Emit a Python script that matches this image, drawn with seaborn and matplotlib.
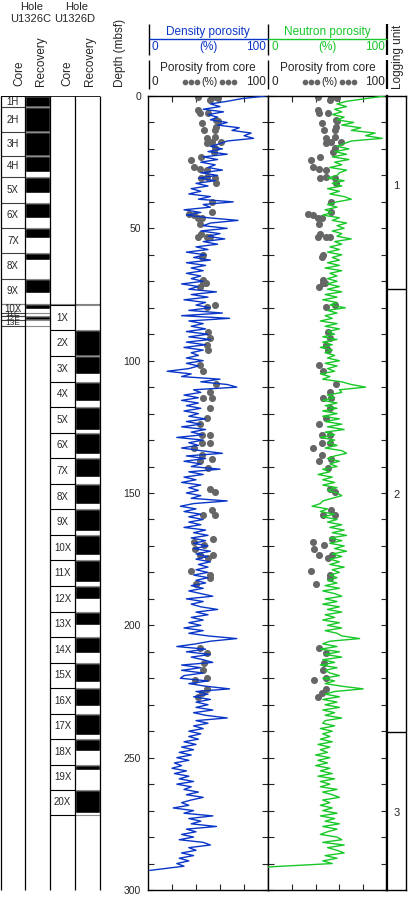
import numpy as np
import pandas as pd
import matplotlib
matplotlib.use("Agg")
import matplotlib.pyplot as plt
import seaborn as sns

sns.set_style("white")
plt.rcParams['font.family'] = ['Liberation Sans', 'DejaVu Sans']

BLUE = '#0a36c8'
GREEN = '#18c828'
GREY = '#666666'

# ---- hole U1326C cores (mbsf) ----
c_names = ['1H', '2H', '3H', '4H', '5X', '6X', '7X', '8X', '9X', '10X', '11E', '12E', '13E']
c_top = [0.0, 4.2, 13.6, 22.7, 30.5, 40.4, 49.9, 59.3, 69.1, 78.6, 82.0, 83.2, 84.6]
c_bot = [4.2, 13.6, 22.7, 30.5, 40.4, 49.9, 59.3, 69.1, 78.6, 82.0, 83.2, 84.6, 87.0]
c_rec = [4.2, 9.4, 9.1, 5.9, 6.0, 5.8, 3.9, 2.7, 5.4, 1.7, 0.5, 1.4, 0.3]

# ---- hole U1326D cores ----
d_names = ['1X', '2X', '3X', '4X', '5X', '6X', '7X', '8X', '9X', '10X',
           '11X', '12X', '13X', '14X', '15X', '16X', '17X', '18X', '19X', '20X']
d_top = [79.0, 88.4, 98.2, 107.9, 117.5, 127.2, 136.8, 146.5, 156.2, 165.8,
         175.5, 185.1, 194.8, 204.5, 214.1, 223.6, 233.4, 243.0, 252.7, 262.2]
d_bot = [88.4, 98.2, 107.9, 117.5, 127.2, 136.8, 146.5, 156.2, 165.8, 175.5,
         185.1, 194.8, 204.5, 214.1, 223.6, 233.4, 243.0, 252.7, 262.2, 271.6]
d_rec = [0.0, 9.8, 6.9, 7.5, 8.6, 8.0, 7.2, 7.5, 8.0, 7.5,
         8.3, 5.0, 5.0, 6.0, 7.2, 7.0, 7.9, 4.3, 2.1, 8.8]

# ---- logging units ----
unit_bounds = [72.9, 240.3]
unit_names = ['1', '2', '3']
unit_mid = [34.0, 150.7, 271.0]

# ---- log porosity (%), one reading per metre from 0 m ----
den_por = [98, 78, 66, 52, 60, 46, 63, 50, 58, 52,
           66, 58, 76, 70, 86, 80, 88, 66, 60, 52,
           62, 50, 66, 46, 58, 44, 56, 50, 62, 44,
           58, 42, 56, 40, 50, 36, 44, 34, 52, 42,
           71, 46, 52, 30, 44, 32, 50, 75, 52, 46,
           66, 44, 60, 50, 64, 46, 58, 40, 50, 32,
           48, 38, 52, 32, 48, 36, 46, 32, 44, 36,
           46, 28, 42, 34, 57, 36, 50, 30, 48, 40,
           52, 34, 62, 28, 68, 34, 46, 36, 48, 32,
           50, 34, 52, 32, 48, 30, 46, 36, 42, 32,
           46, 32, 42, 34, 16, 36, 28, 60, 44, 66,
           74, 38, 44, 30, 42, 28, 42, 32, 44, 30,
           42, 34, 48, 32, 44, 28, 48, 36, 46, 24,
           46, 34, 42, 28, 44, 62, 32, 48, 30, 44,
           36, 60, 34, 46, 30, 40, 28, 44, 34, 42,
           32, 44, 36, 66, 38, 27, 40, 30, 44, 34,
           46, 34, 44, 30, 48, 38, 50, 36, 48, 38,
           50, 38, 52, 40, 50, 40, 52, 42, 50, 40,
           50, 38, 50, 40, 48, 36, 46, 34, 44, 54,
           32, 46, 36, 44, 58, 40, 50, 36, 46, 34,
           44, 30, 46, 34, 50, 74, 52, 40, 24, 48,
           32, 52, 36, 46, 54, 28, 44, 28, 46, 30,
           27, 50, 34, 48, 68, 40, 50, 38, 52, 40,
           50, 40, 54, 38, 48, 66, 40, 50, 38, 46,
           34, 44, 34, 42, 30, 40, 28, 38, 26, 36,
           24, 34, 22, 28, 20, 32, 22, 34, 26, 38,
           24, 36, 30, 42, 32, 46, 36, 28, 34, 21,
           38, 30, 54, 34, 44, 36, 57, 32, 40, 28,
           38, 26, 46, 52, 34, 40, 28, 38, 26, 34,
           24, 30, 1.5]
neu_por = [98, 82, 66, 58, 66, 56, 62, 54, 64, 58,
           72, 62, 78, 70, 90, 82, 96, 70, 64, 58,
           68, 56, 66, 54, 68, 56, 62, 52, 66, 60,
           58, 50, 64, 54, 62, 50, 60, 52, 64, 70,
           58, 50, 58, 48, 54, 46, 60, 54, 66, 58,
           64, 54, 62, 58, 70, 56, 62, 52, 60, 50,
           62, 54, 60, 50, 60, 48, 62, 52, 58, 50,
           58, 50, 60, 50, 62, 48, 58, 46, 58, 52,
           65, 50, 58, 48, 54, 44, 58, 48, 60, 50,
           56, 46, 58, 46, 54, 44, 54, 48, 56, 50,
           60, 48, 58, 50, 56, 44, 52, 46, 62, 70,
           82, 60, 62, 50, 56, 46, 58, 48, 58, 46,
           58, 46, 60, 48, 62, 50, 64, 48, 56, 44,
           56, 50, 58, 48, 62, 66, 56, 50, 60, 52,
           58, 46, 52, 42, 54, 46, 56, 46, 58, 50,
           58, 62, 54, 46, 44, 37, 50, 44, 56, 46,
           58, 50, 62, 52, 64, 54, 66, 52, 62, 52,
           64, 56, 66, 54, 62, 52, 60, 52, 64, 54,
           60, 52, 58, 50, 58, 48, 60, 46, 56, 62,
           48, 58, 46, 60, 50, 62, 48, 56, 46, 60,
           50, 62, 48, 58, 62, 77, 52, 46, 58, 44,
           60, 48, 62, 46, 56, 44, 58, 48, 52, 60,
           46, 56, 48, 62, 80, 56, 48, 60, 46, 58,
           48, 60, 46, 56, 48, 62, 48, 46, 56, 44,
           54, 46, 52, 44, 54, 42, 52, 44, 50, 40,
           52, 42, 50, 40, 52, 44, 54, 42, 56, 44,
           52, 44, 58, 46, 54, 60, 46, 52, 44, 54,
           46, 58, 44, 56, 48, 60, 46, 58, 50, 44,
           58, 62, 46, 64, 50, 58, 64, 48, 58, 46,
           54, 0]

# ---- core porosity (%) ----
core_depth = [0.5, 0.3, 0.2, 0.8, 1.5, 5.3, 6.5, 6.5, 9.0, 9.6, 10.3, 11.6, 12.9, 12.9, 15.4,
              16.0, 17.3, 17.3, 17.9, 19.8, 21.0, 23.0, 24.2, 26.7, 27.4, 28.0, 30.6, 31.0,
              31.0, 33.0, 40.0, 44.0, 44.5, 45.0, 46.0, 46.0, 48.4, 52.0, 53.1, 53.1, 53.1,
              60.0, 61.0, 69.5, 70.8, 70.8, 72.0,
              79.0, 79.6, 89.0, 91.5, 94.0, 96.0, 101.6, 103.9, 108.8, 111.9, 114.2, 114.2,
              118.0, 121.8, 124.0, 128.1, 128.1, 131.2, 131.2, 133.0, 135.5, 137.0, 138.0,
              140.7, 148.3, 149.5, 156.6, 158.4, 158.4, 167.4, 168.5, 169.6, 171.0, 173.5,
              173.5, 174.7, 179.3, 181.0, 182.0, 184.5, 208.7, 210.6, 214.4, 216.9, 220.0,
              220.7, 224.2, 225.5, 227.0]
core_por = [42, 53, 57, 58, 52, 42, 43, 50, 57, 58, 45, 57, 47, 56, 56,
            49, 61, 53, 49, 56, 55, 44, 36, 38, 43, 49, 49, 44,
            56, 57, 53, 53, 34, 38, 42, 45, 43, 44, 42, 49, 52,
            46, 45, 46, 48, 46, 43,
            56, 49, 50, 52, 49, 50, 43, 46, 57, 52, 46, 53,
            52, 49, 43, 45, 52, 45, 52, 38, 45, 53, 43,
            50, 52, 56, 53, 46, 56, 54, 38, 47, 39, 43,
            54, 50, 36, 52, 52, 40, 43, 49, 47, 46, 49,
            39, 49, 45, 42]

depth = np.arange(len(den_por), dtype=float)
depth[-1] = 292.6
den = pd.DataFrame({'depth': depth, 'por': den_por})
ndepth = np.arange(len(neu_por), dtype=float)
ndepth[-1] = 291.3
neu = pd.DataFrame({'depth': ndepth, 'por': neu_por})
core = pd.DataFrame({'depth': core_depth, 'por': core_por})

W, H = 408, 897
fig = plt.figure(figsize=(W / 100, H / 100), dpi=100)


def px_axes(x0, y0, x1, y1):
    return fig.add_axes([x0 / W, 1 - y1 / H, (x1 - x0) / W, (y1 - y0) / H])


# ---------------- core / recovery columns ----------------
axc = px_axes(0.5, 96, 100, 890)
axc.set_xlim(0, 4)
axc.set_ylim(300, 0)
axc.axis('off')
axc.bar([1.5] * len(c_top), c_rec, bottom=c_top, width=1, color='black', align='center')
axc.bar([3.5] * len(d_top), d_rec, bottom=d_top, width=1, color='black', align='center')
for t in c_top + [c_bot[-1]]:
    axc.hlines(t, 0, 1, color='0.25', lw=0.8)
    axc.hlines(t, 1, 2, color='0.55', lw=0.8)
for t in d_top + [d_bot[-1]]:
    axc.hlines(t, 2, 3, color='black', lw=0.8)
    axc.hlines(t, 3, 4, color='0.55', lw=0.8)
axc.hlines(0, 0, 4, color='black', lw=1.2)
axc.hlines(c_top[-4], 0, 4, color='0.5', lw=0.8)
for xv in [0, 1, 2, 3, 4]:
    axc.vlines(xv, 0, 300, color='black', lw=0.9, clip_on=False)
for n, t, b in zip(c_names, c_top, c_bot):
    fs = 7 if b - t > 3 else 6
    axc.text(0.5, (t + b) / 2, n, ha='center', va='center', fontsize=fs)
for n, t, b in zip(d_names, d_top, d_bot):
    axc.text(2.5, (t + b) / 2, n, ha='center', va='center', fontsize=7)


# ---------------- log panels ----------------
def log_panel(ax, data, color, labels):
    sns.scatterplot(data=core, x='por', y='depth', color=GREY, s=26, linewidth=0,
                    ax=ax, zorder=2)
    sns.lineplot(data=data, x='por', y='depth', orient='y', sort=False, estimator=None,
                 color=color, lw=1.0, ax=ax, zorder=3)
    ax.set_xlim(0, 100)
    ax.set_ylim(300, 0)
    ax.set_xlabel('')
    ax.set_ylabel('')
    ax.set_xticks([20, 40, 60, 80])
    ax.set_yticks(np.arange(0, 301, 50))
    ax.set_yticks(np.arange(0, 301, 10), minor=True)
    ax.tick_params(axis='x', direction='in', top=True, bottom=True, length=4, width=0.8,
                   labelbottom=False)
    ax.tick_params(axis='y', which='both', direction='in', left=True, right=True,
                   length=4, width=0.8, labelleft=labels, labelsize=7.5, pad=5)
    for s in ax.spines.values():
        s.set_color('black')
        s.set_linewidth(1)


axd = px_axes(148, 96, 268, 890)
log_panel(axd, den, BLUE, True)
axn = px_axes(268, 96, 387, 890)
log_panel(axn, neu, GREEN, False)
axn.spines['right'].set_linewidth(1.6)

# ---------------- logging units ----------------
axu = px_axes(387, 96, 406, 890)
axu.set_xlim(0, 1)
axu.set_ylim(300, 0)
axu.set_xticks([])
axu.set_yticks([])
for s in axu.spines.values():
    s.set_color('black')
    s.set_linewidth(1)
axu.spines['left'].set_linewidth(1.6)
for b in unit_bounds:
    axu.axhline(b, color='black', lw=1)
for n, m in zip(unit_names, unit_mid):
    axu.text(0.5, m, n, ha='center', va='center', fontsize=8)

# ---------------- headers ----------------
ov = fig.add_axes([0, 0, 1, 1])
ov.set_xlim(0, W)
ov.set_ylim(H, 0)
ov.axis('off')
hf = 8.5
ov.text(32, 7, 'Hole', ha='center', va='center', fontsize=8)
ov.text(77, 7, 'Hole', ha='center', va='center', fontsize=8)
ov.text(31, 19, 'U1326C', ha='center', va='center', fontsize=8)
ov.text(75, 19, 'U1326D', ha='center', va='center', fontsize=8)
for xc, lab in zip([19, 41, 67, 90], ['Core', 'Recovery', 'Core', 'Recovery']):
    ov.text(xc, 86, lab, rotation=90, ha='center', va='bottom', fontsize=hf)
ov.text(120, 53, 'Depth (mbsf)', rotation=90, ha='center', va='center', fontsize=hf)
ov.text(398, 57, 'Logging unit', rotation=90, ha='center', va='center', fontsize=hf)

for xv in [148.5, 268, 387]:
    lw = 1.6 if xv == 387 else 1
    ov.vlines(xv, 24, 55, color='black', lw=lw)
    ov.vlines(xv, 60, 89, color='black', lw=lw)

for x0, x1, name, col in [(148.5, 268, 'Density porosity', BLUE),
                          (268, 387, 'Neutron porosity', GREEN)]:
    xm = (x0 + x1) / 2
    ov.text(xm, 32, name, ha='center', va='center', fontsize=hf, color=col)
    ov.hlines(39, x0, x1, color=col, lw=1)
    ov.text(x0 + 3, 47, '0', ha='left', va='center', fontsize=hf, color=col)
    ov.text(xm, 47, '(%)', ha='center', va='center', fontsize=hf, color=col)
    ov.text(x1 - 2, 47, '100', ha='right', va='center', fontsize=hf, color=col)
    ov.text(xm, 68, 'Porosity from core', ha='center', va='center', fontsize=hf)
    ov.text(x0 + 3, 82, '0', ha='left', va='center', fontsize=hf)
    ov.text(xm + 1.5, 82, '(%)', ha='center', va='center', fontsize=7.5)
    ov.text(x1 - 2, 82, '100', ha='right', va='center', fontsize=hf)
    dx = [xm - 23, xm - 17, xm - 11, xm + 14, xm + 20, xm + 26]
    ov.scatter(dx, [82] * 6, s=17, color=GREY, linewidth=0)

fig.savefig('out.png', dpi=100)
